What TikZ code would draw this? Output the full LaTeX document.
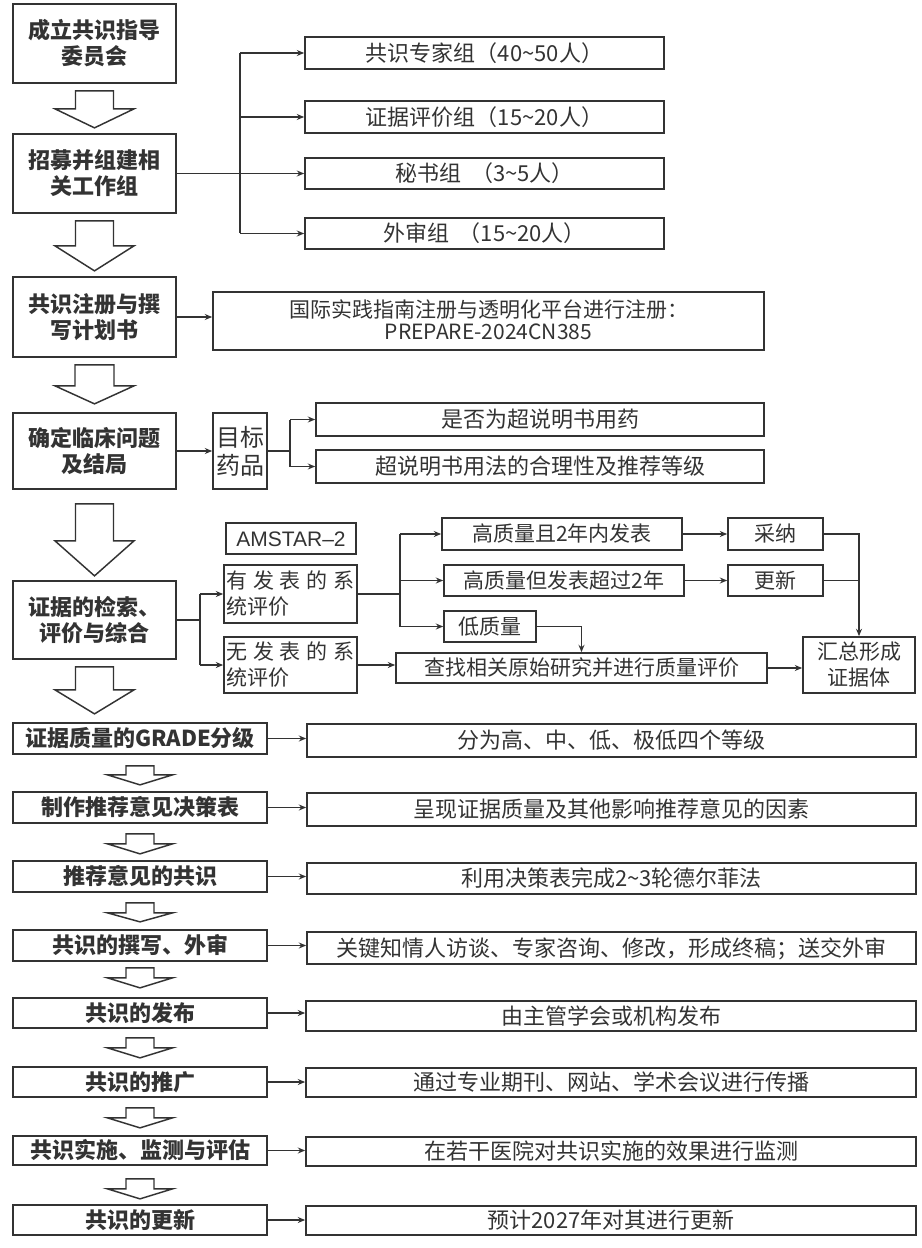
\documentclass[tikz,border=0pt]{standalone}
\usepackage{fontspec}
\setmainfont{Noto Sans CJK SC}
\newfontfamily\arialf{Liberation Sans}
\usetikzlibrary{arrows.meta}
\definecolor{ink}{HTML}{333333}
\tikzset{
  corners/.style n args={4}{at={({(#1+#3)/2},{(#2+#4)/2})},
    minimum width={(#3-#1)*0.75pt}, minimum height={(#4-#2)*0.75pt}},
  box/.style={draw=ink, line width=1.3pt, inner sep=0pt, text=ink, align=center},
  lbox/.style={box, font=\bfseries\fontsize{16.5}{19.5}\selectfont},
  rbox/.style={box, font=\fontsize{15.75}{19.5}\selectfont},
  wbox/.style={box, font=\fontsize{16.5}{19.5}\selectfont},
  conn/.style={draw=ink, line width=1pt},
  arr/.style={conn, -{Stealth[length=5.5pt,width=4.5pt]}},
  hollow/.style={draw=ink, line width=1.1pt, fill=white, line join=miter},
}
% one text line with fixed height/depth, so that it is centred by its glyph body
\newcommand\lx[1]{\smash{#1}\rule[-0.12em]{0pt}{1em}}
% hollow block arrow below node #1: gap, shaft length, head length, shaft half width, head half width
\newcommand\holarr[6]{%
  \draw[hollow, shift={(#1.south)}] (-#5,#2) -- (#5,#2) -- (#5,#2+#3) -- (#6,#2+#3)
    -- (0,#2+#3+#4) -- (-#6,#2+#3) -- (-#5,#2+#3) -- cycle;}
\begin{document}
\begin{tikzpicture}[x=0.75pt,y=-0.75pt]
\useasboundingbox (0,0) rectangle (921,1248);
\fill[white] (0,0) rectangle (921,1248);

% ---- left column, upper part
\node[lbox, corners={13}{4}{176}{83}] (b1) {\lx{成立共识指导}\\\lx{委员会}};
\node[lbox, corners={13}{134}{176}{213}] (b2) {\lx{招募并组建相}\\\lx{关工作组}};
\node[lbox, corners={13}{277}{176}{357}] (b3) {\lx{共识注册与撰}\\\lx{写计划书}};
\node[lbox, corners={13}{413}{176}{489}] (b4) {\lx{确定临床问题}\\\lx{及结局}};
\node[lbox, corners={13}{581}{176}{659}] (b5) {\lx{证据的检索、}\\\lx{评价与综合}};

\holarr{b1}{7}{18}{19}{19}{39.5}
\holarr{b2}{7}{25}{25}{19}{39.5}
\holarr{b3}{7}{21}{18}{19.5}{39.5}
\holarr{b4}{14}{37}{35}{19}{39.5}
\holarr{b5}{7}{23}{24}{19}{39.5}

% ---- working groups
\node[wbox, corners={305}{37}{664}{69}] (g1) {\lx{共识专家组（40\textasciitilde50人）}};
\node[wbox, corners={305}{101}{664}{133}] (g2) {\lx{证据评价组（15\textasciitilde20人）}};
\node[wbox, corners={305}{158}{664}{189}] (g3) {\lx{秘书组\ \ （3\textasciitilde5人）}};
\node[wbox, corners={305}{218}{664}{249}] (g4) {\lx{外审组\ \ （15\textasciitilde20人）}};
\coordinate (j1) at (240,173.5);
\draw[conn] (b2.east) -- (j1);
\draw[conn] (j1 |- g1.west) -- (j1 |- g4.west);
\foreach \g in {g1,g2,g3,g4} \draw[arr] (j1 |- \g.west) -- (\g.west);

% ---- registration
\node[box, font=\fontsize{15.75}{16.5}\selectfont, corners={213}{292}{764}{350}] (p1)
  {\lx{国际实践指南注册与透明化平台进行注册：}\\\lx{PREPARE-2024CN385}};
\draw[arr] (b3.east) -- (b3.east -| p1.west);

% ---- clinical questions
\node[box, font=\fontsize{18}{21}\selectfont, corners={213}{413}{267}{489}] (t4) {\lx{目标}\\\lx{药品}};
\node[wbox, corners={316}{403}{764}{436}] (q1) {\lx{是否为超说明书用药}};
\node[wbox, corners={316}{450}{764}{483}] (q2) {\lx{超说明书用法的合理性及推荐等级}};
\draw[arr] (b4.east) -- (b4.east -| t4.west);
\coordinate (j2) at (290,451);
\draw[conn] (t4.east) -- (j2);
\draw[conn] (j2 |- q1.west) -- (j2 |- q2.west);
\draw[arr] (j2 |- q1.west) -- (q1.west);
\draw[arr] (j2 |- q2.west) -- (q2.west);

% ---- evidence
\node[rbox, corners={226}{523}{356}{554}] (am) {\lx{\arialf AMSTAR–2}};
\node[rbox, align=left, corners={224}{565}{357}{623}] (s1)
  {\lx{\hbox to 96pt{有\hfill 发\hfill 表\hfill 的\hfill 系}}\\\lx{统评价}};
\node[rbox, align=left, corners={224}{637}{357}{693}] (s2)
  {\lx{\hbox to 96pt{无\hfill 发\hfill 表\hfill 的\hfill 系}}\\\lx{统评价}};
\coordinate (j3) at (200,620);
\draw[conn] (b5.east) -- (j3);
\draw[conn] (j3 |- s1.west) -- (j3 |- s2.west);
\draw[arr] (j3 |- s1.west) -- (s1.west);
\draw[arr] (j3 |- s2.west) -- (s2.west);

\node[rbox, corners={442}{518}{682}{550}] (k1) {\lx{高质量且2年内发表}};
\node[rbox, corners={444}{565}{684}{596}] (k2) {\lx{高质量但发表超过2年}};
\node[rbox, corners={444}{611}{536}{642}] (k3) {\lx{低质量}};
\node[rbox, corners={396}{653}{767}{683}] (c1) {\lx{查找相关原始研究并进行质量评价}};
\node[rbox, corners={728}{518}{823}{550}] (a1) {\lx{采纳}};
\node[rbox, corners={728}{565}{823}{596}] (a2) {\lx{更新}};
\node[rbox, corners={803}{637}{915}{693}] (z1) {\lx{汇总形成}\\\lx{证据体}};

\coordinate (j4) at (400,594);
\draw[conn] (s1.east) -- (j4);
\draw[conn] (j4 |- k1.west) -- (j4 |- k3.west);
\foreach \k in {k1,k2,k3} \draw[arr] (j4 |- \k.west) -- (\k.west);
\draw[arr] (s2.east) -- (s2.east -| c1.west);
\draw[arr] (k1.east) -- (k1.east -| a1.west);
\draw[arr] (k2.east) -- (k2.east -| a2.west);
\draw[arr] (a1.east) -| (z1.north);
\draw[conn] (a2.east) -- (a2.east -| z1.north);
\draw[arr] (k3.east) -| (c1.north);
\draw[arr] (c1.east) -- (c1.east -| z1.west);

% ---- lower steps
\node[lbox, corners={13}{723}{267}{754}] (b6) {\lx{证据质量的GRADE分级}};
\node[lbox, corners={13}{792}{267}{823}] (b7) {\lx{制作推荐意见决策表}};
\node[lbox, corners={13}{861}{267}{892}] (b8) {\lx{推荐意见的共识}};
\node[lbox, corners={13}{930}{267}{961}] (b9) {\lx{共识的撰写、外审}};
\node[lbox, corners={13}{998}{267}{1028}] (b10) {\lx{共识的发布}};
\node[lbox, corners={13}{1067}{267}{1097}] (b11) {\lx{共识的推广}};
\node[lbox, corners={13}{1136}{267}{1165}] (b12) {\lx{共识实施、监测与评估}};
\node[lbox, corners={13}{1205}{267}{1235}] (b13) {\lx{共识的更新}};

\node[wbox, corners={307}{724}{916}{757}] (r6) {\lx{分为高、中、低、极低四个等级}};
\node[wbox, corners={307}{793}{916}{826}] (r7) {\lx{呈现证据质量及其他影响推荐意见的因素}};
\node[wbox, corners={307}{863}{916}{894}] (r8) {\lx{利用决策表完成2\textasciitilde3轮德尔菲法}};
\node[wbox, corners={307}{932}{916}{964}] (r9) {\lx{关键知情人访谈、专家咨询、修改，形成终稿；送交外审}};
\node[wbox, corners={306}{1001}{916}{1031}] (r10) {\lx{由主管学会或机构发布}};
\node[wbox, corners={306}{1068}{916}{1097}] (r11) {\lx{通过专业期刊、网站、学术会议进行传播}};
\node[wbox, corners={306}{1137}{916}{1166}] (r12) {\lx{在若干医院对共识实施的效果进行监测}};
\node[wbox, corners={306}{1206}{916}{1235}] (r13) {\lx{预计2027年对其进行更新}};

\holarr{b6}{11}{9}{10}{14}{32.5}
\holarr{b7}{10}{10}{10}{14}{32.5}
\holarr{b8}{10}{10}{9}{14}{32.5}
\holarr{b9}{6}{10}{10}{14}{32.5}
\holarr{b10}{9}{10}{10}{14}{32.5}
\holarr{b11}{10}{10}{10}{14}{32.5}
\holarr{b12}{13}{10}{10}{14}{32.5}

\foreach \i in {6,...,13} \draw[arr] (b\i.east) -- (b\i.east -| r\i.west);
\end{tikzpicture}
\end{document}
